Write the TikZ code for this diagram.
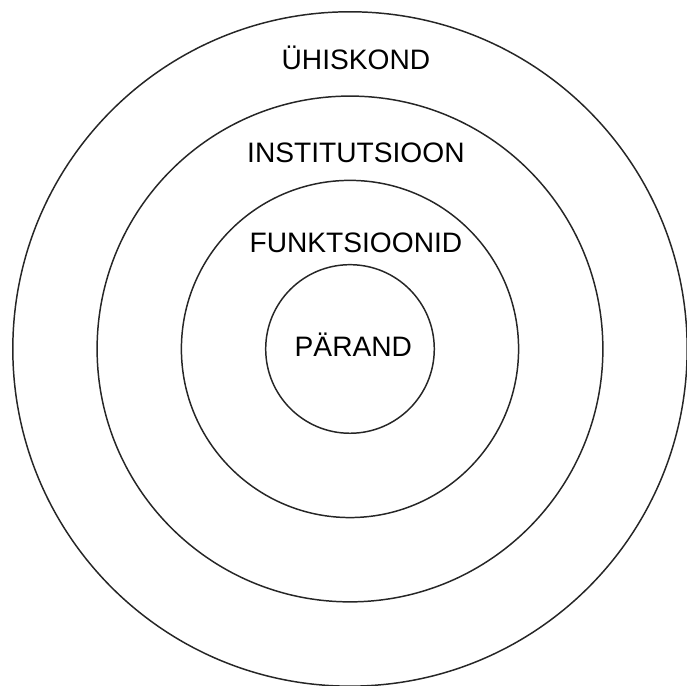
\documentclass[tikz,border=0pt]{standalone}
\usepackage{fontspec}
\setmainfont{Liberation Sans}
\begin{document}
\begin{tikzpicture}[
    ring/.style={draw=black!85, line width=0.5pt},
    tase/.style={anchor=base, inner sep=0pt, font=\fontsize{9.5}{11}\selectfont}]
        \useasboundingbox (-4.152,-3.998) rectangle (3.998,4.140);
        % ringid
        \foreach \r in {1,...,4}
            \draw[ring] (0,0) circle (\r);
        % tasandid
        \node[tase] (yhiskond) at (0.07,3.31) {ÜHISKOND};
        \node[tase] (institutsioon) at (0.07,2.21) {INSTITUTSIOON};
        \node[tase] (funktsioonid) at (0.07,1.14) {FUNKTSIOONID};
        \node[tase] (parand) at (0.04,-0.09) {PÄRAND};
    \end{tikzpicture}
\end{document}
